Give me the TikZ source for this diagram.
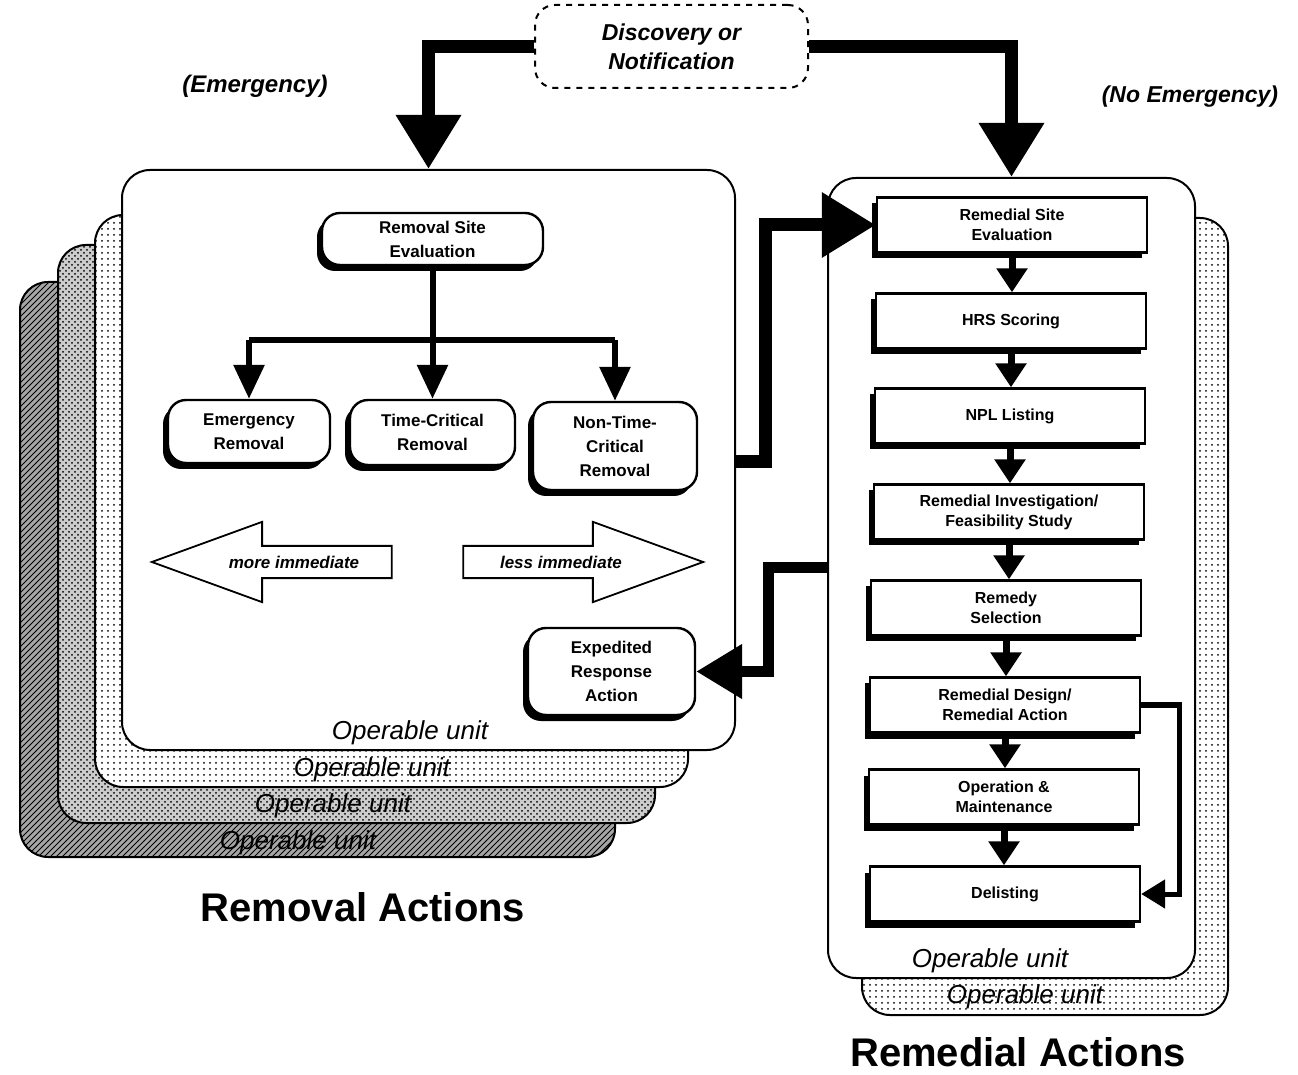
\documentclass[tikz,border=0pt]{standalone}
\usepackage{fontspec}
\setmainfont{Liberation Sans}
\usetikzlibrary{arrows.meta,patterns,shapes.arrows,shadows}
\begin{document}
\begin{tikzpicture}[x=0.5pt,y=-0.5pt,
  unitbox/.style={draw, line width=1pt, rounded corners=14pt, fill=white},
  rbox/.style={draw, line width=1.2pt, rounded corners=9pt, fill=white, align=center,
    font=\fontsize{8.5}{12}\selectfont\bfseries,
    drop shadow={shadow xshift=-2.5pt, shadow yshift=-3pt, fill=black, opacity=1}},
  sbox/.style={draw, line width=1.2pt, fill=white, align=center,
    minimum width=135pt, minimum height=27.5pt,
    font=\fontsize{8}{10}\selectfont\bfseries,
    drop shadow={shadow xshift=-2.5pt, shadow yshift=-3pt, fill=black, opacity=1}},
  oplabel/.style={font=\fontsize{13}{14}\selectfont\itshape},
  bigarrow/.style={line width=6.5pt, -{Triangle[width=31pt, length=27pt]}},
  midarrow/.style={line width=5.5pt, -{Triangle[width=26pt, length=23pt]}},
  treearrow/.style={line width=3pt, -{Triangle[width=15pt, length=17pt]}},
  steparrow/.style={line width=3.5pt, -{Triangle[width=15pt, length=12pt]}},
  hollow/.style={draw, line width=0.9pt, fill=white, single arrow, single arrow head extend=12pt,
    single arrow tip angle=40, minimum height=120pt, inner ysep=4.5pt,
    font=\fontsize{8.5}{10}\selectfont\bfseries\itshape}
]
\useasboundingbox (0,0) rectangle (1298,1075);

% stacked operable units, removal side
\draw[line width=1pt, rounded corners=14pt, fill=gray!70, postaction={pattern=north east lines}] (20,282) rectangle (615,857);
\draw[line width=1pt, rounded corners=14pt, fill=gray!40, postaction={pattern=crosshatch dots}] (58,245) rectangle (655,823);
\draw[line width=1pt, rounded corners=14pt, fill=white, postaction={pattern=dots}] (95,215) rectangle (688,787);
\node[oplabel] (ou4) at (298,843) {Operable unit};
\node[oplabel] (ou3) at (333,806) {Operable unit};
\node[oplabel] (ou2) at (372,770) {Operable unit};
\node[unitbox, minimum width=306.5pt, minimum height=290pt] (leftou) at (428.5,460) {};
\node[oplabel] (ou1) at (410,733) {Operable unit};

% stacked operable units, remedial side
\draw[line width=1pt, rounded corners=14pt, fill=white, postaction={pattern=dots}] (862,218) rectangle (1228,1015);
\node[oplabel] (ouback) at (1025,997) {Operable unit};
\node[unitbox, minimum width=183.5pt, minimum height=400pt] (rightou) at (1011.5,578) {};
\node[oplabel] (oufront) at (990,961) {Operable unit};

% top
\node[draw, dashed, line width=1pt, rounded corners=10pt, minimum width=136.5pt, minimum height=41.5pt,
  align=center, font=\fontsize{11.5}{14.5}\selectfont\bfseries\itshape] (disc) at (671.5,46.5) {Discovery or\\Notification};
\node[font=\fontsize{12}{14}\selectfont\bfseries\itshape] (emerg) at (255,86) {(Emergency)};
\node[font=\fontsize{11.5}{14}\selectfont\bfseries\itshape] (noemerg) at (1190,97) {(No Emergency)};
\draw[bigarrow] (disc.west) -| (leftou.north);
\draw[bigarrow] (disc.east) -| (rightou.north);

% removal actions
\node[rbox, minimum width=110.5pt, minimum height=26pt] (rse) at (432.5,239) {Removal Site\\Evaluation};
\node[rbox, minimum width=81pt, minimum height=31.5pt] (er) at (249,431.5) {Emergency\\Removal};
\node[rbox, minimum width=82.5pt, minimum height=32.5pt] (tc) at (432.5,432.5) {Time-Critical\\Removal};
\node[rbox, minimum width=82pt, minimum height=44pt] (ntc) at (615,446) {Non-Time-\\Critical\\Removal};
\node[rbox, minimum width=83.5pt, minimum height=43.5pt] (era) at (611.5,671.5) {Expedited\\Response\\Action};
\coordinate (fork) at (432.5,340);
\draw[line width=3pt] (er.north |- fork) -- (ntc.north |- fork);
\draw[treearrow] (rse.south) -- (tc.north);
\draw[treearrow] (er.north |- fork) -- (er.north);
\draw[treearrow] (ntc.north |- fork) -- (ntc.north);
\node[hollow, shape border rotate=180] (more) at (294,562) {more immediate};
\node[hollow] (less) at (561,562) {less immediate};

% remedial actions
\node[sbox] (rsev) at (1012,225) {Remedial Site\\Evaluation};
\node[sbox] (hrs) at (1011,321) {HRS Scoring};
\node[sbox] (npl) at (1010,416) {NPL Listing};
\node[sbox] (rifs) at (1009,512) {Remedial Investigation/\\Feasibility Study};
\node[sbox] (rsel) at (1006,608) {Remedy\\Selection};
\node[sbox] (rdra) at (1005,705) {Remedial Design/\\Remedial Action};
\node[sbox] (om) at (1004,797) {Operation \&\\Maintenance};
\node[sbox] (delist) at (1005,894) {Delisting};
\foreach \a/\b in {rsev/hrs, hrs/npl, npl/rifs, rifs/rsel, rsel/rdra, rdra/om, om/delist}
  \draw[steparrow] (\a.south) -- (\a.south |- \b.north);
\draw[line width=2.5pt, -{Triangle[width=14pt, length=12pt]}] (rdra.east) -- ++(38,0) |- (delist.east);

% between the two sides
\draw[bigarrow] (leftou.east |- 0,462) -- (765,462) |- (rsev.west);
\draw[midarrow] (rightou.west |- 0,568) -- (768,568) |- (era.east);

\node[font=\fontsize{20}{24}\selectfont\bfseries] (removal) at (363,907) {Removal Actions};
\node[font=\fontsize{20}{24}\selectfont\bfseries] (remedial) at (1018,1052) {Remedial Actions};
\end{tikzpicture}
\end{document}
